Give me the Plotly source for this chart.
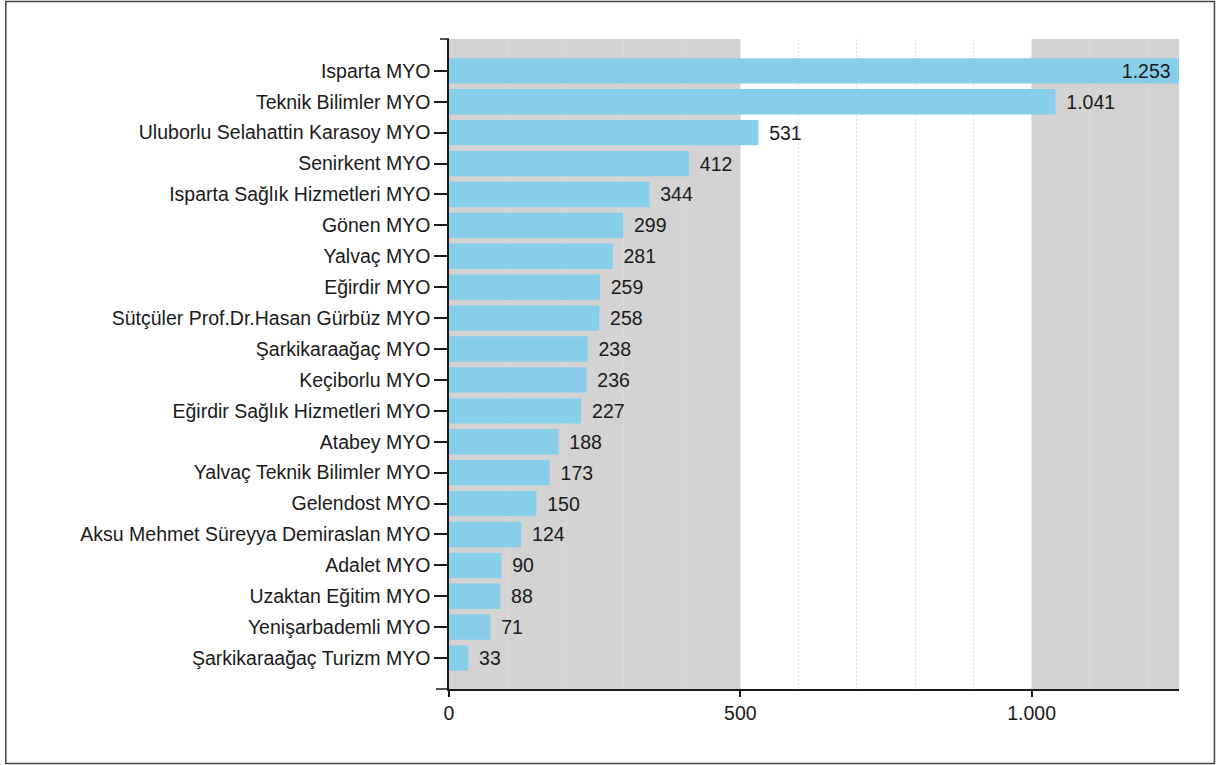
import plotly.graph_objects as go

categories = [
    "Isparta MYO", "Teknik Bilimler MYO", "Uluborlu Selahattin Karasoy MYO", "Senirkent MYO",
    "Isparta Sağlık Hizmetleri MYO", "Gönen MYO", "Yalvaç MYO", "Eğirdir MYO",
    "Sütçüler Prof.Dr.Hasan Gürbüz MYO", "Şarkikaraağaç MYO", "Keçiborlu MYO",
    "Eğirdir Sağlık Hizmetleri MYO", "Atabey MYO", "Yalvaç Teknik Bilimler MYO",
    "Gelendost MYO", "Aksu Mehmet Süreyya Demiraslan MYO", "Adalet MYO",
    "Uzaktan Eğitim MYO", "Yenişarbademli MYO", "Şarkikaraağaç Turizm MYO",
]
values = [1253, 1041, 531, 412, 344, 299, 281, 259, 258, 238, 236, 227, 188, 173, 150, 124, 90, 88, 71, 33]
x_ticks = [0, 500, 1000]

W, H = 1216, 765
L, R, T, B = 449, 1179.5, 39, 689
pw, ph = R - L, B - T

def px(p):
    return (p - L) / pw

def py(p):
    return (B - p) / ph

FONT = "Liberation Sans, Arial"
FS = 19.5
TC = "#1a1a1a"
NB = "\u00a0"
TS = "\u2009"

xmax = max(values)
text_pos = ["inside" if v == xmax else "outside" for v in values]
text_tpl = ["%{x:,}" + NB if v == xmax else TS * 2 + "%{x:,}" for v in values]

fig = go.Figure(go.Bar(
    y=categories, x=values, orientation="h",
    marker=dict(color="#87CEEB", line=dict(width=0)),
    texttemplate=text_tpl, textposition=text_pos,
    insidetextanchor="end", constraintext="none",
    textfont=dict(family=FONT, size=FS, color=TC),
    insidetextfont=dict(family=FONT, size=FS, color=TC),
    outsidetextfont=dict(family=FONT, size=FS, color=TC),
    cliponaxis=False,
    hoverinfo="skip",
))

shapes = [
    dict(type="rect", xref="x", yref="paper", x0=0, x1=500, y0=0, y1=1,
         fillcolor="#d3d3d3", line=dict(width=0), layer="below"),
    dict(type="rect", xref="x", yref="paper", x0=1000, x1=xmax, y0=0, y1=1,
         fillcolor="#d3d3d3", line=dict(width=0), layer="below"),
    # outer ticks of the axes
    dict(type="line", xref="paper", yref="paper", x0=px(440), x1=px(449), y0=1, y1=1,
         line=dict(color=TC, width=1.5)),
    dict(type="line", xref="paper", yref="paper", x0=px(436), x1=px(449), y0=0, y1=0,
         line=dict(color=TC, width=1.5)),
    # figure border
    dict(type="rect", xref="paper", yref="paper", x0=px(5.5), x1=px(1215), y0=py(763.5), y1=py(1.5),
         line=dict(color="#444", width=1.5), fillcolor="rgba(0,0,0,0)"),
]

fig.update_layout(
    width=W, height=H,
    margin=dict(l=L, r=W - R, t=T, b=H - B, pad=0),
    paper_bgcolor="white", plot_bgcolor="white",
    separators=",.",
    bargap=0.18,
    showlegend=False,
    shapes=shapes,
    font=dict(family=FONT, size=FS, color=TC),
    xaxis=dict(
        range=[0, xmax], tickvals=x_ticks, tickformat=",d",
        showgrid=False, zeroline=False,
        showline=True, linecolor=TC, linewidth=1.5,
        ticks="outside", ticklen=6, tickwidth=1.5, tickcolor=TC,
        tickfont=dict(family=FONT, size=FS, color=TC),
        minor=dict(dtick=100, tick0=0, showgrid=True, gridcolor="#e0e0e0",
                   griddash="2px,2px", gridwidth=1, ticks=""),
        layer="above traces",
    ),
    yaxis=dict(
        range=[20.0, -1.03], showgrid=False, zeroline=False,
        showline=True, linecolor=TC, linewidth=1.5,
        ticks="outside", ticklen=13, tickwidth=1.5, tickcolor=TC,
        tickfont=dict(family=FONT, size=FS, color=TC),
    ),
)

fig.write_html("out.html", config={"displayModeBar": False},
               post_script="document.body.style.margin='0';")
